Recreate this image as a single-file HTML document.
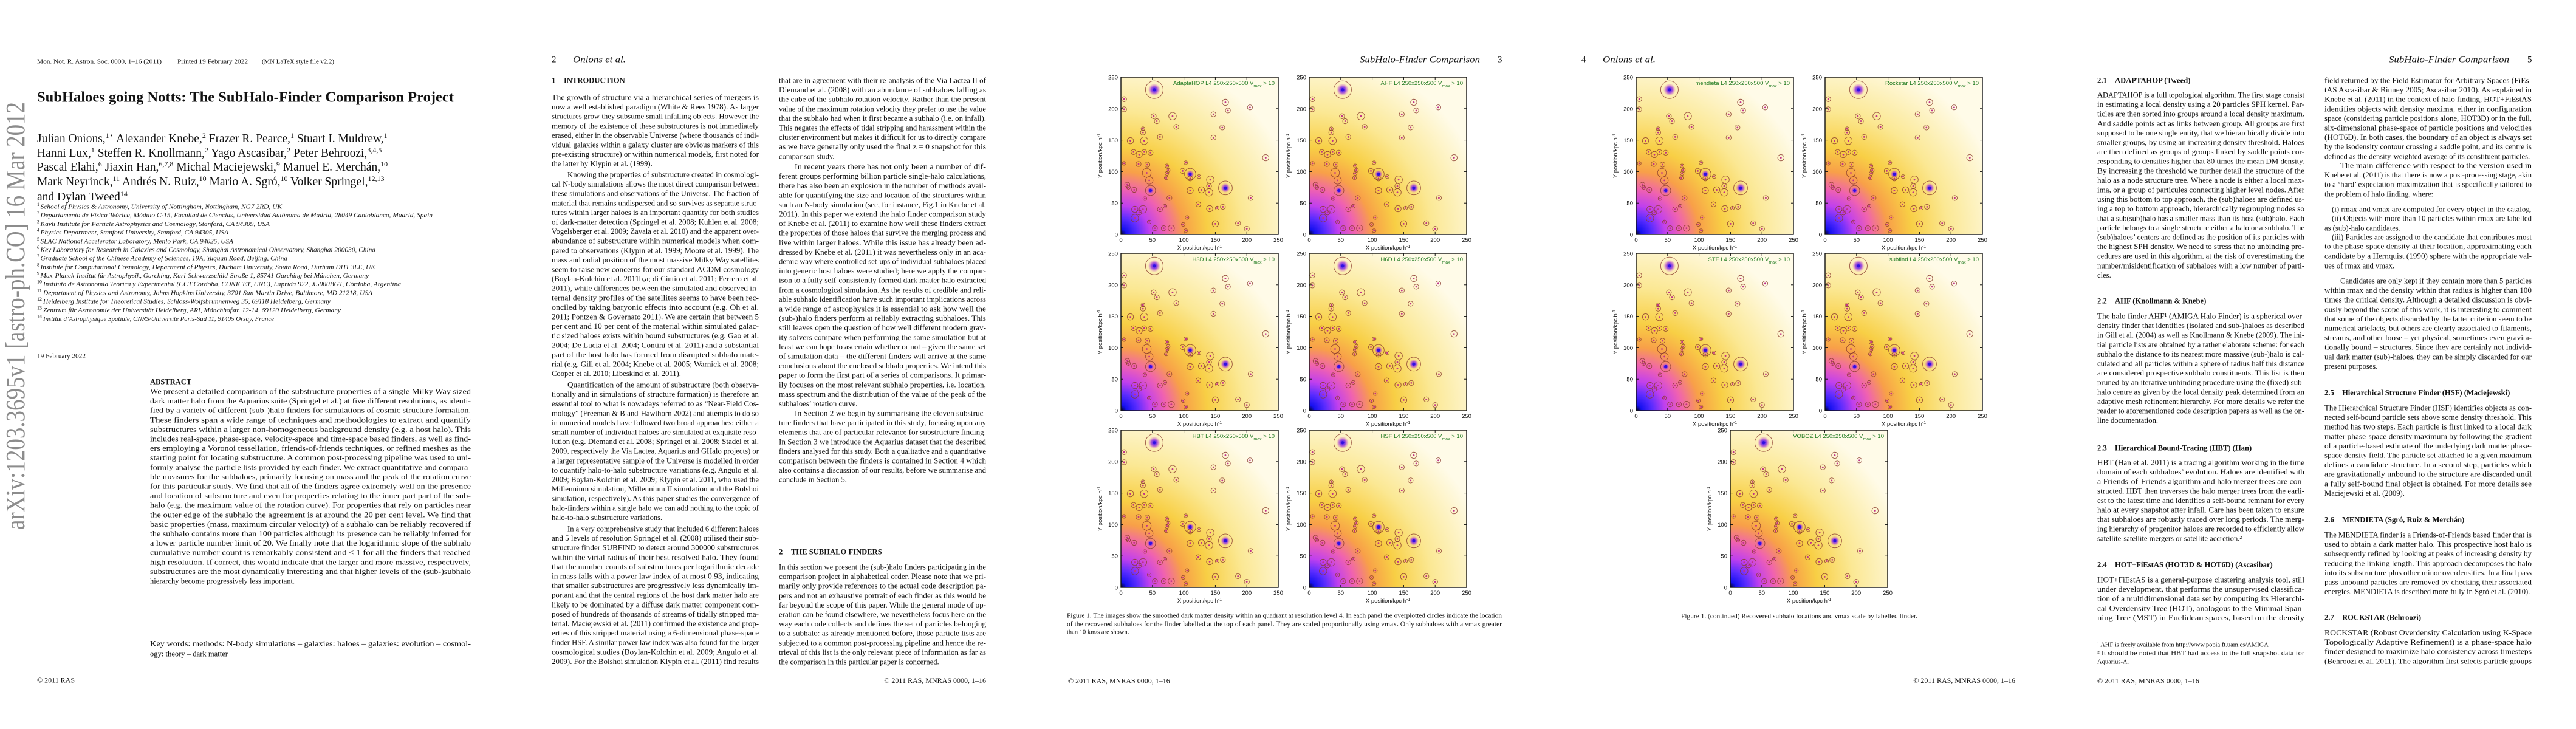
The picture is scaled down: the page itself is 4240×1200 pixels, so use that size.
<!DOCTYPE html>
<html><head><meta charset="utf-8"><title>SubHaloes going Notts</title>
<style>
html,body{margin:0;padding:0;background:#fff;}
svg{display:block;}
text{font-family:"Liberation Serif",serif;fill:#111;}
.sans{font-family:"Liberation Sans",sans-serif;}
</style></head>
<body>
<svg id="root" xmlns="http://www.w3.org/2000/svg" width="4240" height="1200" viewBox="0 0 4240 1200">
<defs>
<radialGradient id="dens" gradientUnits="objectBoundingBox" cx="0" cy="1" r="1.15" fx="0" fy="1">
<stop offset="0" stop-color="#05021a"/>
<stop offset="0.03" stop-color="#1510f0"/>
<stop offset="0.09" stop-color="#5a2cff"/>
<stop offset="0.16" stop-color="#c040ee"/>
<stop offset="0.25" stop-color="#f062b0"/>
<stop offset="0.35" stop-color="#f8a048"/>
<stop offset="0.48" stop-color="#f8cf45"/>
<stop offset="0.68" stop-color="#fbe894"/>
<stop offset="1" stop-color="#fffbe8"/>
</radialGradient>
<radialGradient id="glow">
<stop offset="0" stop-color="#2010ff"/>
<stop offset="0.5" stop-color="#9030e0" stop-opacity="0.8"/>
<stop offset="1" stop-color="#e060c0" stop-opacity="0"/>
</radialGradient>
</defs>
<rect x="0" y="0" width="4240" height="1200" fill="#fff"/>
<g id="content"></g>
</svg>
<script>
// ---------- Chart data (subhalo catalogue, kpc/h) ----------
const haloX = [53,5,5,52,57,82,88,62,35,35,37,15,20,29,37,47,28,42,5,41,45,47,10,12,21,38,73,75,73,72,98,103,110,110,124,142,140,140,110,128,166,77,62,70,123,141,153,162,22,35,29,22,45,54,68,80,99,105,103,150,147,166,170,161,147,206,205,230,186,200];
const haloY = [230,215,199,188,180,188,171,155,168,162,149,149,131,127,131,130,112,111,113,98,86,70,79,75,71,57,109,102,97,90,101,114,96,89,92,87,77,67,70,71,74,58,40,45,48,41,42,44,40,40,35,26,20,10,10,10,16,27,6,17,191,210,197,170,154,58,202,122,18,9];
const haloR = [14,4,4,4,4,6,4,4,3,4,6,5,4,5,4,4,4,4,3,7,6,8,4,3,4,3,3,3,3,3,4,3,9,4,3,6,4,6,5,5,11,4,4,3,4,5,3,4,5,6,4,6,3,4,4,5,3,3,3,5,4,5,4,4,4,4,4,5,4,4];
const axisTicks = [0,50,100,150,200,250];
const tickLabels = ["0","50","100","150","200","250"];
const finders = ["AdaptaHOP","H3D","HBT","AHF","H6D","HSF","mendieta","STF","Rockstar","subfind","VOBOZ"];
const axisMax = 250;

const NS = "http://www.w3.org/2000/svg";
const root = document.getElementById('content');
function mk(tag, attrs, name, parent, txt) {
  const el = document.createElementNS(NS, tag);
  for (const k in attrs) el.setAttribute(k, attrs[k]);
  
  
  if (txt !== undefined) el.textContent = txt;
  (parent || root).appendChild(el);
  return el;
}

// ---------- Panels ----------
const PS = 259;
function drawPanel(px, py, finder, name) {
  const g = mk('g', {}, name + '-panel');
  const sx = v => px + v / axisMax * PS;
  const sy = v => py + PS - v / axisMax * PS;
  mk('rect', {x: px, y: py, width: PS, height: PS, fill: 'url(#dens)'}, 'density-map', g);
  for (let i = 0; i < haloX.length; i++) {
    const cx = sx(haloX[i]), cy = sy(haloY[i]), r = haloR[i] / axisMax * PS;
    if (haloR[i] >= 8) mk('circle', {cx: cx, cy: cy, r: r * 0.7, fill: 'url(#glow)'}, 'halo-core-glow', g);
    mk('circle', {cx: cx, cy: cy, r: r, fill: 'none', stroke: '#8a3a2e', 'stroke-width': 0.9, 'stroke-opacity': 0.85}, 'subhalo-circle', g);
    mk('circle', {cx: cx, cy: cy, r: haloR[i] >= 8 ? 2.6 : 1.4, fill: haloR[i] >= 8 ? '#3010e0' : '#c0308a'}, 'subhalo-centre', g);
  }
  mk('rect', {x: px, y: py, width: PS, height: PS, fill: 'none', stroke: '#111', 'stroke-width': 1.4}, 'plot-frame', g);
  axisTicks.forEach((t, i) => {
    const x = sx(t), y = sy(t);
    mk('line', {x1: x, y1: py + PS, x2: x, y2: py + PS - 4, stroke: '#111', 'stroke-width': 1}, 'x-tick', g);
    mk('line', {x1: x, y1: py, x2: x, y2: py + 4, stroke: '#111', 'stroke-width': 1}, 'x-tick-top', g);
    mk('line', {x1: px, y1: y, x2: px + 4, y2: y, stroke: '#111', 'stroke-width': 1}, 'y-tick', g);
    mk('line', {x1: px + PS, y1: y, x2: px + PS - 4, y2: y, stroke: '#111', 'stroke-width': 1}, 'y-tick-right', g);
    mk('text', {x: x, y: py + PS + 12, 'font-size': 9.5, 'text-anchor': 'middle', class: 'sans'}, 'x-tick-label', g, tickLabels[i]);
    mk('text', {x: px - 5, y: y + 3.5, 'font-size': 9.5, 'text-anchor': 'end', class: 'sans'}, 'y-tick-label', g, tickLabels[i]);
  });
  const xl = mk('text', {x: px + PS / 2, y: py + PS + 25, 'font-size': 9.5, 'text-anchor': 'middle', class: 'sans'}, 'x-axis-title', g, 'X position/kpc h');
  mk('tspan', {'baseline-shift': 'super', 'font-size': 7}, 'x-axis-title-exponent', xl, '-1');
  const yl = mk('text', {x: 0, y: 0, 'font-size': 9.5, 'text-anchor': 'middle', class: 'sans', transform: 'translate(' + (px - 31) + ',' + (py + PS / 2) + ') rotate(-90)'}, 'y-axis-title', g, 'Y position/kpc h');
  mk('tspan', {'baseline-shift': 'super', 'font-size': 7}, 'y-axis-title-exponent', yl, '-1');
  const tl = mk('text', {x: px + PS - 6, y: py + 13, 'font-size': 9.5, 'text-anchor': 'end', class: 'sans', style: 'fill:#1f7a1f'}, 'panel-title', g, finder + ' L4 250x250x500 V');
  mk('tspan', {'baseline-shift': 'sub', 'font-size': 7, style: 'fill:#1f7a1f'}, 'panel-title-subscript', tl, 'max');
  mk('tspan', {style: 'fill:#1f7a1f'}, 'panel-title-threshold', tl, ' > 10');
}
const panelSlots = [
  [1845,127],[1845,417],[1845,708],[2155,127],[2155,417],[2155,708],
  [2693,127],[2693,417],[3004,127],[3004,417],[2848,708]
];
finders.forEach((f, i) => drawPanel(panelSlots[i][0], panelSlots[i][1], f, f.toLowerCase()));

// ---------- Text helpers ----------
const FS = 12.6;
function line(x, y, w, s, just, name, size, style) {
  const a = {x: x, y: y + 4.5, 'font-size': size || FS};
  if (just) { a.textLength = w; a.lengthAdjust = 'spacingAndGlyphs'; }
  if (style) a.style = style;
  return mk('text', a, name, null, s);
}
function para(x, y0, w, lines, indent, cont, name, step) {
  step = step || 15.6;
  lines.forEach((s, i) => {
    const last = i === lines.length - 1;
    const ind = (i === 0 && indent) ? 26 : 0;
    line(x + ind, y0 + i * step, w - ind, s, !last || cont, name + '-line');
  });
}
function heading(x, y, num, title, off, name) {
  line(x, y, 0, num, false, name + '-number', FS, 'font-weight:bold');
  line(x + off, y, 0, title, false, name, FS, 'font-weight:bold');
}

// ---------- Page 1 ----------
line(61, 100, 205, 'Mon. Not. R. Astron. Soc. 0000, 1–16 (2011)', true, 'journal-reference', 11);
line(292, 100, 116, 'Printed 19 February 2022', true, 'print-date', 11);
line(431, 100, 119, '(MN LaTeX style file v2.2)', true, 'style-file-note', 11);
line(61, 163, 686, 'SubHaloes going Notts: The SubHalo-Finder Comparison Project', true, 'paper-title', 24, 'font-weight:bold');
const authors = [
  [['Julian Onions,','1⋆'],[' Alexander Knebe,','2'],[' Frazer R. Pearce,','1'],[' Stuart I. Muldrew,','1']],
  [['Hanni Lux,','1'],[' Steffen R. Knollmann,','2'],[' Yago Ascasibar,','2'],[' Peter Behroozi,','3,4,5']],
  [['Pascal Elahi,','6'],[' Jiaxin Han,','6,7,8'],[' Michal Maciejewski,','9'],[' Manuel E. Merchán,','10']],
  [['Mark Neyrinck,','11'],[' Andrés N. Ruiz,','10'],[' Mario A. Sgró,','10'],[' Volker Springel,','12,13']],
  [['and Dylan Tweed','14']]
];
const authorY = [227, 251, 274, 298, 323];
authors.forEach((ln, i) => {
  const t = mk('text', {x: 61, y: authorY[i] + 7, 'font-size': 19.5}, 'author-line');
  ln.forEach(p => {
    mk('tspan', {}, 'author-name', t, p[0]);
    mk('tspan', {'font-size': 12, 'baseline-shift': 'super'}, 'author-affiliation-mark', t, p[1]);
  });
});
const affils = [
 'School of Physics & Astronomy, University of Nottingham, Nottingham, NG7 2RD, UK',
 'Departamento de Física Teórica, Módulo C-15, Facultad de Ciencias, Universidad Autónoma de Madrid, 28049 Cantoblanco, Madrid, Spain',
 'Kavli Institute for Particle Astrophysics and Cosmology, Stanford, CA 94309, USA',
 'Physics Department, Stanford University, Stanford, CA 94305, USA',
 'SLAC National Accelerator Laboratory, Menlo Park, CA 94025, USA',
 'Key Laboratory for Research in Galaxies and Cosmology, Shanghai Astronomical Observatory, Shanghai 200030, China',
 'Graduate School of the Chinese Academy of Sciences, 19A, Yuquan Road, Beijing, China',
 'Institute for Computational Cosmology, Department of Physics, Durham University, South Road, Durham DH1 3LE, UK',
 'Max-Planck-Institut für Astrophysik, Garching, Karl-Schwarzschild-Straße 1, 85741 Garching bei München, Germany',
 'Instituto de Astronomía Teórica y Experimental (CCT Córdoba, CONICET, UNC), Laprida 922, X5000BGT, Córdoba, Argentina',
 'Department of Physics and Astronomy, Johns Hopkins University, 3701 San Martin Drive, Baltimore, MD 21218, USA',
 'Heidelberg Institute for Theoretical Studies, Schloss-Wolfsbrunnenweg 35, 69118 Heidelberg, Germany',
 'Zentrum für Astronomie der Universität Heidelberg, ARI, Mönchhofstr. 12-14, 69120 Heidelberg, Germany',
 'Institut d’Astrophysique Spatiale, CNRS/Universite Paris-Sud 11, 91405 Orsay, France'
];
const affilRight = [464,712,444,376,384,618,473,618,607,660,613,544,561,451];
affils.forEach((s, i) => {
  const y = 339 + i * 14.19;
  const n = String(i + 1);
  mk('text', {x: 61, y: y, 'font-size': 8}, 'affiliation-number', null, n);
  const x0 = 61 + n.length * 4.5 + 1;
  line(x0, y, affilRight[i] - x0, s, true, 'affiliation', 11, 'font-style:italic');
});
line(61, 585, 80, '19 February 2022', true, 'received-date', 11.5);
line(247, 628, 0, 'ABSTRACT', false, 'abstract-heading', 12.5, 'font-weight:bold');
para(247, 644, 528, [
'We present a detailed comparison of the substructure properties of a single Milky Way sized',
'dark matter halo from the Aquarius suite (Springel et al.) at five different resolutions, as identi-',
'fied by a variety of different (sub-)halo finders for simulations of cosmic structure formation.',
'These finders span a wide range of techniques and methodologies to extract and quantify',
'substructures within a larger non-homogeneous background density (e.g. a host halo). This',
'includes real-space, phase-space, velocity-space and time-space based finders, as well as find-',
'ers employing a Voronoi tessellation, friends-of-friends techniques, or refined meshes as the',
'starting point for locating substructure. A common post-processing pipeline was used to uni-',
'formly analyse the particle lists provided by each finder. We extract quantitative and compara-',
'ble measures for the subhaloes, primarily focusing on mass and the peak of the rotation curve',
'for this particular study. We find that all of the finders agree extremely well on the presence',
'and location of substructure and even for properties relating to the inner part part of the sub-',
'halo (e.g. the maximum value of the rotation curve). For properties that rely on particles near',
'the outer edge of the subhalo the agreement is at around the 20 per cent level. We find that',
'basic properties (mass, maximum circular velocity) of a subhalo can be reliably recovered if',
'the subhalo contains more than 100 particles although its presence can be reliably inferred for',
'a lower particle number limit of 20. We finally note that the logarithmic slope of the subhalo',
'cumulative number count is remarkably consistent and < 1 for all the finders that reached',
'high resolution. If correct, this would indicate that the larger and more massive, respectively,',
'substructures are the most dynamically interesting and that higher levels of the (sub-)subhalo',
'hierarchy become progressively less important.'], false, false, 'abstract');
line(247, 1059, 528, 'Key words:  methods: N-body simulations – galaxies: haloes – galaxies: evolution – cosmol-', true, 'keywords');
line(247, 1076, 0, 'ogy: theory – dark matter', false, 'keywords');
line(61, 1119, 0, '© 2011 RAS', false, 'copyright-footer', 12);
mk('text', {x: 0, y: 0, 'font-size': 44, 'text-anchor': 'middle', textLength: 704, lengthAdjust: 'spacingAndGlyphs', style: 'fill:#8c8c8c', transform: 'translate(40,520) rotate(-90)'}, 'arxiv-stamp', null, 'arXiv:1203.3695v1  [astro-ph.CO]  16 Mar 2012');

// ---------- Page 2 ----------
line(908, 98, 0, '2', false, 'page-number', 15);
line(943, 98, 87, 'Onions et al.', true, 'running-head', 15, 'font-style:italic');
heading(908, 132, '1', 'INTRODUCTION', 20, 'section-heading');
const L = 908, R = 1282, W = 341;
para(L, 160, W, [
'The growth of structure via a hierarchical series of mergers is',
'now a well established paradigm (White & Rees 1978). As larger',
'structures grow they subsume small infalling objects. However the',
'memory of the existence of these substructures is not immediately',
'erased, either in the observable Universe (where thousands of indi-',
'vidual galaxies within a galaxy cluster are obvious markers of this',
'pre-existing structure) or within numerical models, first noted for',
'the latter by Klypin et al. (1999).'], false, false, 'intro-paragraph');
para(L, 287, W, [
'Knowing the properties of substructure created in cosmologi-',
'cal N-body simulations allows the most direct comparison between',
'these simulations and observations of the Universe. The fraction of',
'material that remains undispersed and so survives as separate struc-',
'tures within larger haloes is an important quantity for both studies',
'of dark-matter detection (Springel et al. 2008; Kuhlen et al. 2008;',
'Vogelsberger et al. 2009; Zavala et al. 2010) and the apparent over-',
'abundance of substructure within numerical models when com-',
'pared to observations (Klypin et al. 1999; Moore et al. 1999). The',
'mass and radial position of the most massive Milky Way satellites',
'seem to raise new concerns for our standard ΛCDM cosmology',
'(Boylan-Kolchin et al. 2011b,a; di Cintio et al. 2011; Ferrero et al.',
'2011), while differences between the simulated and observed in-',
'ternal density profiles of the satellites seems to have been rec-',
'onciled by taking baryonic effects into account (e.g. Oh et al.',
'2011; Pontzen & Governato 2011). We are certain that between 5',
'per cent and 10 per cent of the material within simulated galac-',
'tic sized haloes exists within bound substructures (e.g. Gao et al.',
'2004; De Lucia et al. 2004; Contini et al. 2011) and a substantial',
'part of the host halo has formed from disrupted subhalo mate-',
'rial (e.g. Gill et al. 2004; Knebe et al. 2005; Warnick et al. 2008;',
'Cooper et al. 2010; Libeskind et al. 2011).'], true, false, 'intro-paragraph');
para(L, 633, W, [
'Quantification of the amount of substructure (both observa-',
'tionally and in simulations of structure formation) is therefore an',
'essential tool to what is nowadays referred to as “Near-Field Cos-',
'mology” (Freeman & Bland-Hawthorn 2002) and attempts to do so',
'in numerical models have followed two broad approaches: either a',
'small number of individual haloes are simulated at exquisite reso-',
'lution (e.g. Diemand et al. 2008; Springel et al. 2008; Stadel et al.',
'2009, respectively the Via Lactea, Aquarius and GHalo projects) or',
'a larger representative sample of the Universe is modelled in order',
'to quantify halo-to-halo substructure variations (e.g. Angulo et al.',
'2009; Boylan-Kolchin et al. 2009; Klypin et al. 2011, who used the',
'Millennium simulation, Millennium II simulation and the Bolshoi',
'simulation, respectively). As this paper studies the convergence of',
'halo-finders within a single halo we can add nothing to the topic of',
'halo-to-halo substructure variations.'], true, false, 'intro-paragraph');
para(L, 870, W, [
'In a very comprehensive study that included 6 different haloes',
'and 5 levels of resolution Springel et al. (2008) utilised their sub-',
'structure finder SUBFIND to detect around 300000 substructures',
'within the virial radius of their best resolved halo. They found',
'that the number counts of substructures per logarithmic decade',
'in mass falls with a power law index of at most 0.93, indicating',
'that smaller substructures are progressively less dynamically im-',
'portant and that the central regions of the host dark matter halo are',
'likely to be dominated by a diffuse dark matter component com-',
'posed of hundreds of thousands of streams of tidally stripped ma-',
'terial. Maciejewski et al. (2011) confirmed the existence and prop-',
'erties of this stripped material using a 6-dimensional phase-space',
'finder HSF. A similar power law index was also found for the larger',
'cosmological studies (Boylan-Kolchin et al. 2009; Angulo et al.',
'2009). For the Bolshoi simulation Klypin et al. (2011) find results'], true, true, 'intro-paragraph');
para(R, 132, W, [
'that are in agreement with their re-analysis of the Via Lactea II of',
'Diemand et al. (2008) with an abundance of subhaloes falling as',
'the cube of the subhalo rotation velocity. Rather than the present',
'value of the maximum rotation velocity they prefer to use the value',
'that the subhalo had when it first became a subhalo (i.e. on infall).',
'This negates the effects of tidal stripping and harassment within the',
'cluster environment but makes it difficult for us to directly compare',
'as we have generally only used the final z = 0 snapshot for this',
'comparison study.'], false, false, 'intro-paragraph');
para(R, 274, W, [
'In recent years there has not only been a number of dif-',
'ferent groups performing billion particle single-halo calculations,',
'there has also been an explosion in the number of methods avail-',
'able for quantifying the size and location of the structures within',
'such an N-body simulation (see, for instance, Fig.1 in Knebe et al.',
'2011). In this paper we extend the halo finder comparison study',
'of Knebe et al. (2011) to examine how well these finders extract',
'the properties of those haloes that survive the merging process and',
'live within larger haloes. While this issue has already been ad-',
'dressed by Knebe et al. (2011) it was nevertheless only in an aca-',
'demic way where controlled set-ups of individual subhaloes placed',
'into generic host haloes were studied; here we apply the compar-',
'ison to a fully self-consistently formed dark matter halo extracted',
'from a cosmological simulation. As the results of credible and reli-',
'able subhalo identification have such important implications across',
'a wide range of astrophysics it is essential to ask how well the',
'(sub-)halo finders perform at reliably extracting subhaloes. This',
'still leaves open the question of how well different modern grav-',
'ity solvers compare when performing the same simulation but at',
'least we can hope to ascertain whether or not – given the same set',
'of simulation data – the different finders will arrive at the same',
'conclusions about the enclosed subhalo properties. We intend this',
'paper to form the first part of a series of comparisons. It primar-',
'ily focuses on the most relevant subhalo properties, i.e. location,',
'mass spectrum and the distribution of the value of the peak of the',
'subhaloes’ rotation curve.'], true, false, 'intro-paragraph');
para(R, 680, W, [
'In Section 2 we begin by summarising the eleven substruc-',
'ture finders that have participated in this study, focusing upon any',
'elements that are of particular relevance for substructure finding.',
'In Section 3 we introduce the Aquarius dataset that the described',
'finders analysed for this study. Both a qualitative and a quantitative',
'comparison between the finders is contained in Section 4 which',
'also contains a discussion of our results, before we summarise and',
'conclude in Section 5.'], true, false, 'intro-paragraph');
heading(R, 908, '2', 'THE SUBHALO FINDERS', 20, 'section-heading');
para(R, 933, W, [
'In this section we present the (sub-)halo finders participating in the',
'comparison project in alphabetical order. Please note that we pri-',
'marily only provide references to the actual code description pa-',
'pers and not an exhaustive portrait of each finder as this would be',
'far beyond the scope of this paper. While the general mode of op-',
'eration can be found elsewhere, we nevertheless focus here on the',
'way each code collects and defines the set of particles belonging',
'to a subhalo: as already mentioned before, those particle lists are',
'subjected to a common post-processing pipeline and hence the re-',
'trieval of this list is the only relevant piece of information as far as',
'the comparison in this particular paper is concerned.'], false, false, 'finders-paragraph');
mk('text', {x: 1623, y: 1124, 'font-size': 12, 'text-anchor': 'end'}, 'copyright-footer', null, '© 2011 RAS, MNRAS 0000, 1–16');

// ---------- Page 3 ----------
line(2238, 98, 198, 'SubHalo-Finder Comparison', true, 'running-head', 15, 'font-style:italic');
line(2465, 98, 0, '3', false, 'page-number', 15);
line(1756, 1012, 716, 'Figure 1. The images show the smoothed dark matter density within an quadrant at resolution level 4. In each panel the overplotted circles indicate the location', true, 'figure-caption', 10.5);
line(1756, 1026, 716, 'of the recovered subhaloes for the finder labelled at the top of each panel. They are scaled proportionally using vmax. Only subhaloes with a vmax greater', true, 'figure-caption', 10.5);
line(1756, 1039, 0, 'than 10 km/s are shown.', false, 'figure-caption', 10.5);
line(1758, 1120, 0, '© 2011 RAS, MNRAS 0000, 1–16', false, 'copyright-footer', 12);

// ---------- Page 4 ----------
line(2603, 98, 0, '4', false, 'page-number', 15);
line(2638, 98, 87, 'Onions et al.', true, 'running-head', 15, 'font-style:italic');
line(2767, 1013, 389, 'Figure 1. (continued) Recovered subhalo locations and vmax scale by labelled finder.', true, 'figure-caption', 11);
mk('text', {x: 3317, y: 1124, 'font-size': 12, 'text-anchor': 'end'}, 'copyright-footer', null, '© 2011 RAS, MNRAS 0000, 1–16');

// ---------- Page 5 ----------
line(3932, 98, 198, 'SubHalo-Finder Comparison', true, 'running-head', 15, 'font-style:italic');
line(4160, 98, 0, '5', false, 'page-number', 15);
const L5 = 3452, R5 = 3826, W5 = 341;
heading(L5, 132, '2.1', 'ADAPTAHOP (Tweed)', 29, 'subsection-heading');
para(L5, 156, W5, [
'ADAPTAHOP is a full topological algorithm. The first stage consist',
'in estimating a local density using a 20 particles SPH kernel. Par-',
'ticles are then sorted into groups around a local density maximum.',
'And saddle points act as links between group. All groups are first',
'supposed to be one single entity, that we hierarchically divide into',
'smaller groups, by using an increasing density threshold. Haloes',
'are then defined as groups of groups linked by saddle points cor-',
'responding to densities higher that 80 times the mean DM density.',
'By increasing the threshold we further detail the structure of the',
'halo as a node structure tree. Where a node is either a local max-',
'ima, or a group of particules connecting higher level nodes. After',
'using this bottom to top approach, the (sub)haloes are defined us-',
'ing a top to bottom approach, hierarchically regrouping nodes so',
'that a sub(sub)halo has a smaller mass than its host (sub)halo. Each',
'particle belongs to a single structure either a halo or a subhalo. The',
'(sub)haloes’ centers are defined as the position of its particles with',
'the highest SPH density. We need to stress that no unbinding pro-',
'cedures are used in this algorithm, at the risk of overestimating the',
'number/misidentification of subhaloes with a low number of parti-',
'cles.'], false, false, 'adaptahop-paragraph');
heading(L5, 495, '2.2', 'AHF (Knollmann & Knebe)', 29, 'subsection-heading');
para(L5, 520, W5, [
'The halo finder AHF¹ (AMIGA Halo Finder) is a spherical over-',
'density finder that identifies (isolated and sub-)haloes as described',
'in Gill et al. (2004) as well as Knollmann & Knebe (2009). The ini-',
'tial particle lists are obtained by a rather elaborate scheme: for each',
'subhalo the distance to its nearest more massive (sub-)halo is cal-',
'culated and all particles within a sphere of radius half this distance',
'are considered prospective subhalo constituents. This list is then',
'pruned by an iterative unbinding procedure using the (fixed) sub-',
'halo centre as given by the local density peak determined from an',
'adaptive mesh refinement hierarchy. For more details we refer the',
'reader to aforementioned code description papers as well as the on-',
'line documentation.'], false, false, 'ahf-paragraph');
heading(L5, 737, '2.3', 'Hierarchical Bound-Tracing (HBT) (Han)', 29, 'subsection-heading');
para(L5, 761, W5, [
'HBT (Han et al. 2011) is a tracing algorithm working in the time',
'domain of each subhaloes’ evolution. Haloes are identified with',
'a Friends-of-Friends algorithm and halo merger trees are con-',
'structed. HBT then traverses the halo merger trees from the earli-',
'est to the latest time and identifies a self-bound remnant for every',
'halo at every snapshot after infall. Care has been taken to ensure',
'that subhaloes are robustly traced over long periods. The merg-',
'ing hierarchy of progenitor haloes are recorded to efficiently allow',
'satellite-satellite mergers or satellite accretion.²'], false, false, 'hbt-paragraph');
heading(L5, 929, '2.4', 'HOT+FiEstAS (HOT3D & HOT6D) (Ascasibar)', 29, 'subsection-heading');
para(L5, 954, W5, [
'HOT+FiEstAS is a general-purpose clustering analysis tool, still',
'under development, that performs the unsupervised classifica-',
'tion of a multidimensional data set by computing its Hierarchi-',
'cal Overdensity Tree (HOT), analogous to the Minimal Span-',
'ning Tree (MST) in Euclidean spaces, based on the density'], false, true, 'hotfiestas-paragraph');
line(L5, 1060, 0, '¹  AHF is freely available from http://www.popia.ft.uam.es/AMIGA', false, 'footnote', 10.5);
line(L5, 1074, W5, '²  It should be noted that HBT had access to the full snapshot data for', true, 'footnote', 10.5);
line(L5, 1088, 0, 'Aquarius-A.', false, 'footnote', 10.5);
line(L5, 1120, 0, '© 2011 RAS, MNRAS 0000, 1–16', false, 'copyright-footer', 12);
para(R5, 132, W5, [
'field returned by the Field Estimator for Arbitrary Spaces (FiEs-',
'tAS Ascasibar & Binney 2005; Ascasibar 2010). As explained in',
'Knebe et al. (2011) in the context of halo finding, HOT+FiEstAS',
'identifies objects with density maxima, either in configuration',
'space (considering particle positions alone, HOT3D) or in the full,',
'six-dimensional phase-space of particle positions and velocities',
'(HOT6D). In both cases, the boundary of an object is always set',
'by the isodensity contour crossing a saddle point, and its centre is',
'defined as the density-weighted average of its constituent particles.'], false, false, 'hotfiestas-paragraph');
para(R5, 272, W5, [
'The main difference with respect to the version used in',
'Knebe et al. (2011) is that there is now a post-processing stage, akin',
'to a ‘hard’ expectation-maximization that is specifically tailored to',
'the problem of halo finding, where:'], true, false, 'hotfiestas-paragraph');
line(R5 + 12, 344, W5 - 12, '(i)  rmax and vmax are computed for every object in the catalog.', true, 'list-item');
line(R5 + 12, 359, W5 - 12, '(ii)  Objects with more than 10 particles within rmax are labelled', true, 'list-item');
line(R5, 375, 0, 'as (sub)-halo candidates.', false, 'list-item');
line(R5 + 12, 390, W5 - 12, '(iii)  Particles are assigned to the candidate that contributes most', true, 'list-item');
line(R5, 405, W5, 'to the phase-space density at their location, approximating each', true, 'list-item');
line(R5, 421, W5, 'candidate by a Hernquist (1990) sphere with the appropriate val-', true, 'list-item');
line(R5, 437, 0, 'ues of rmax and vmax.', false, 'list-item');
para(R5, 462, W5, [
'Candidates are only kept if they contain more than 5 particles',
'within rmax and the density within that radius is higher than 100',
'times the critical density. Although a detailed discussion is obvi-',
'ously beyond the scope of this work, it is interesting to comment',
'that some of the objects discarded by the latter criterion seem to be',
'numerical artefacts, but others are clearly associated to filaments,',
'streams, and other loose – yet physical, sometimes even gravita-',
'tionally bound – structures. Since they are certainly not individ-',
'ual dark matter (sub)-haloes, they can be simply discarded for our',
'present purposes.'], true, false, 'hotfiestas-paragraph');
heading(R5, 646, '2.5', 'Hierarchical Structure Finder (HSF) (Maciejewski)', 29, 'subsection-heading');
para(R5, 671, W5, [
'The Hierarchical Structure Finder (HSF) identifies objects as con-',
'nected self-bound particle sets above some density threshold. This',
'method has two steps. Each particle is first linked to a local dark',
'matter phase-space density maximum by following the gradient',
'of a particle-based estimate of the underlying dark matter phase-',
'space density field. The particle set attached to a given maximum',
'defines a candidate structure. In a second step, particles which',
'are gravitationally unbound to the structure are discarded until',
'a fully self-bound final object is obtained. For more details see',
'Maciejewski et al. (2009).'], false, false, 'hsf-paragraph');
heading(R5, 855, '2.6', 'MENDIETA (Sgró, Ruiz & Merchán)', 29, 'subsection-heading');
para(R5, 880, W5, [
'The MENDIETA finder is a Friends-of-Friends based finder that is',
'used to obtain a dark matter halo. This prospective host halo is',
'subsequently refined by looking at peaks of increasing density by',
'reducing the linking length. This approach decomposes the halo',
'into its substructure plus other minor overdensities. In a final pass',
'pass unbound particles are removed by checking their associated',
'energies. MENDIETA is described more fully in Sgró et al. (2010).'], false, false, 'mendieta-paragraph');
heading(R5, 1016, '2.7', 'ROCKSTAR (Behroozi)', 29, 'subsection-heading');
para(R5, 1041, W5, [
'ROCKSTAR (Robust Overdensity Calculation using K-Space',
'Topologically Adaptive Refinement) is a phase-space halo',
'finder designed to maximize halo consistency across timesteps',
'(Behroozi et al. 2011). The algorithm first selects particle groups'], false, true, 'rockstar-paragraph');
</script>
</body></html>
